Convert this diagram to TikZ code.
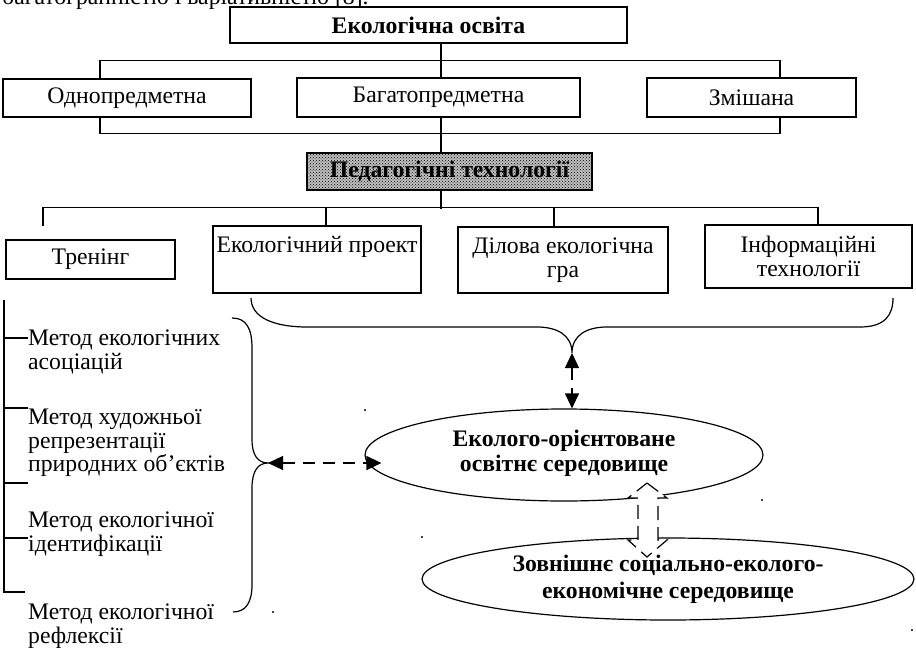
\documentclass[tikz,border=0pt]{standalone}
\usepackage{fontspec}
\setmainfont{Liberation Serif}
\usetikzlibrary{shapes.geometric,arrows.meta,patterns}
\newcommand{\schemefont}{\fontsize{23.7pt}{23.5pt}\selectfont}
\tikzset{
  box/.style={draw, line width=1.4pt, inner sep=0pt, align=center},
  link/.style={line width=1.4pt},
  brace/.style={line width=1.2pt},
  envshape/.style={ellipse, draw, line width=1.2pt, inner sep=0pt},
  envtext/.style={inner sep=0pt, align=center, font=\schemefont\bfseries},
  dasharrow/.style={line width=1.2pt, dash pattern=on 12pt off 8pt,
    {Triangle[length=15pt,width=14pt]}-{Triangle[length=15pt,width=14pt]}},
  method/.style={anchor=north west, inner sep=0pt, align=left},
}
\begin{document}
\begin{tikzpicture}[x=1pt, y=-1pt, font=\schemefont]
  \clip (0,0) rectangle (916,648);
  % cut-off line of the text above
  \node[anchor=base west, inner sep=0pt] (prevline) at (2,4) {багатогранністю і варіативністю [8].};

  % kinds of education
  \node[box, minimum width=397pt, minimum height=36pt, font=\schemefont\bfseries] (osvita) at (428.5,25) {Екологічна освіта};
  \node[box, minimum width=248pt, minimum height=38pt] (odno) at (127,98) {Однопредметна};
  \node[box, minimum width=283pt, minimum height=39pt] (baga) at (438.5,97.5) {Багатопредметна};
  \node[box, minimum width=209pt, minimum height=39pt] (zmish) at (751.5,97.5) {Змішана};
  \node[box, preaction={fill=gray!50}, pattern=crosshatch dots, pattern color=black,
    minimum width=285pt, minimum height=37pt, font=\schemefont\bfseries] (tech) at (449.5,171.5) {Педагогічні технології};

  % technologies
  \node[box, minimum width=169pt, minimum height=39pt] (trening) at (90.5,259.5) {Тренінг};
  \node[box, minimum width=208pt, minimum height=67pt] (proekt) at (317,259.5) {Екологічний проект\\\strut};
  \node[box, minimum width=210pt, minimum height=66pt] (gra) at (563,260) {Ділова екологічна\\гра};
  \node[box, minimum width=207pt, minimum height=63pt] (inform) at (808.5,256.5) {Інформаційні\\технології};

  % tree lines
  \draw[link] ([xshift=12.5pt]osvita.south) -- ([xshift=2.5pt]baga.north);
  \draw[link] ([xshift=-27pt]odno.north) -- ++(0,-18) -| ([xshift=28.5pt]zmish.north);
  \draw[link] ([xshift=-27pt]odno.south) -- ++(0,16) -| ([xshift=28.5pt]zmish.south);
  \draw[link] ([xshift=2.5pt]baga.south) -- ([xshift=-8.5pt]tech.north);
  \draw[link] ([xshift=-8.5pt]tech.south) -- ++(0,18);
  \draw[link] ([xshift=-47.5pt,yshift=13pt]trening.north) -- ++(0,-19) -| ([xshift=9.5pt]inform.north);
  \draw[link] ([xshift=9pt]proekt.north) -- ++(0,-18);
  \draw[link] ([xshift=-9pt]gra.north) -- ++(0,-19);

  % methods of the training
  \coordinate (spinetop) at (4,300);
  \coordinate (spinebot) at (4,592);
  \draw[link] (spinetop) -- (spinebot) -- ++(21,0);
  \foreach \y in {338,408,483,538}
    \draw[link] (4,\y) -- ++(24,0);
  \node[method] (m1) at (28,330) {Метод екологічних\\асоціацій};
  \node[method] (m2) at (28,409) {Метод художньої\\репрезентації\\природних об’єктів};
  \node[method] (m3) at (28,512) {Метод екологічної\\ідентифікації};
  \node[method] (m4) at (28,604) {Метод екологічної\\рефлексії};

  % environments
  \node[envshape, minimum width=398pt, minimum height=92pt] (env) at (564,455) {};
  \node[envtext] (envlabel) at ([yshift=2pt]env.center) {Еколого-орієнтоване\\[1.5pt]освітнє середовище};
  \node[envshape, minimum width=492pt, minimum height=82pt] (outer) at (668,579) {};
  \node[envtext] (outerlabel) at (outer.center) {Зовнішнє соціально-еколого-\\[3.5pt]економічне середовище};

  % braces
  \draw[brace] (251,298) .. controls (251,318) and (275,327) .. (307,327) -- (537,327)
    .. controls (557,327) and (572,335) .. (572,353) coordinate (cusptop)
    .. controls (572,335) and (587,327) .. (607,327) -- (860,327)
    .. controls (885,327) and (893,315) .. (893,298);
  \draw[brace] (232,318) .. controls (246,318) and (252,328) .. (252,348) -- (252,440)
    .. controls (252,455) and (258,463) .. (268,463) coordinate (cuspleft)
    .. controls (258,463) and (252,471) .. (252,488) -- (252,585)
    .. controls (252,602) and (246,612) .. (233,612);

  % arrows
  \draw[dasharrow] (cusptop) -- (env.north -| cusptop);
  \draw[dasharrow, shorten >=-17pt] (cuspleft) -- (cuspleft -| env.west);
  \draw[line width=1.2pt, dash pattern=on 14pt off 7pt, fill=white]
    (647,483) -- (667,498) -- (658,498) -- (658,540) -- (667,540) -- (647,557)
    -- (628,540) -- (638,540) -- (638,498) -- (628,498) -- cycle;

  % stray dots
  \foreach \p in {(365,410),(273,612),(762,500),(422,537),(912,630)}
    \fill \p circle (1.2pt);
\end{tikzpicture}
\end{document}
